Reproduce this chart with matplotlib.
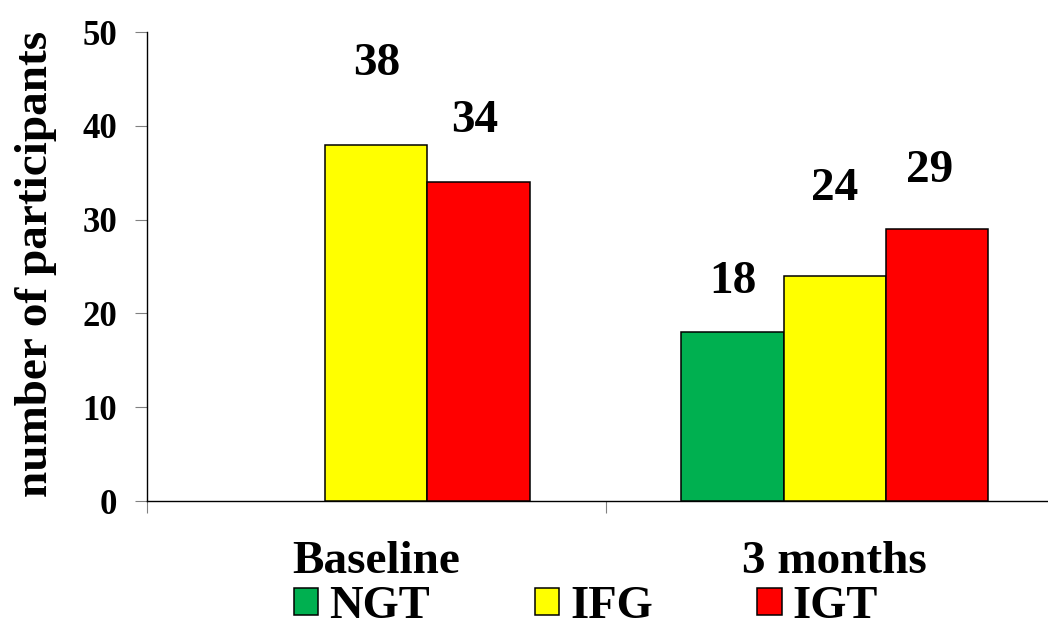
import matplotlib.pyplot as plt
from matplotlib.patches import Patch
import numpy as np

categories = ['Baseline', '3 months']
groups = ['NGT', 'IFG', 'IGT']
ngt = [0, 18]
ifg = [38, 24]
igt = [34, 29]
yticks = [0, 10, 20, 30, 40, 50]

colours = ['#00B050', '#FFFF00', '#FF0000']

plt.rcParams['font.family'] = ['Liberation Serif', 'DejaVu Serif']
plt.rcParams['font.weight'] = 'bold'

fig = plt.figure(figsize=(10.48, 6.21), dpi=100, facecolor='white')
ax = fig.add_axes([0.1403, 0.1932, 0.875, 0.7552])

x = np.arange(len(categories))
width = 0.223
series = [ngt, ifg, igt]
offsets = [-width, 0, width]

# text nudges, in data units (dx, dy above bar top)
lab_dx = [[0, 0], [0, 0], [-0.009, -0.017]]
lab_dy = [[0, 4.2], [7.4, 8.1], [5.3, 5.0]]

for i, vals in enumerate(series):
    # empty bars get no outline and no number
    edges = ['black' if v > 0 else 'none' for v in vals]
    ax.bar(x + offsets[i], vals, width, color=colours[i],
           edgecolor=edges, linewidth=1.1, zorder=3)
    for j, v in enumerate(vals):
        if v == 0:
            continue
        ax.text(x[j] + offsets[i] + lab_dx[i][j], v + lab_dy[i][j], str(v),
                ha='center', va='baseline', fontsize=34, fontweight='bold')

ax.set_xlim(-0.5, 1.5)
ax.set_ylim(0, 50)
ax.set_yticks(yticks)
ax.set_xticks(x)
ax.set_xticklabels(categories, fontsize=34, fontweight='bold')
ax.set_xticks([-0.5, 0.5, 1.5], minor=True)

ax.tick_params(axis='y', direction='out', length=8.6, width=0.8,
               color='#808080', labelsize=25, pad=13)
ax.tick_params(axis='x', which='major', length=0, pad=29)
ax.tick_params(axis='x', which='minor', direction='out', length=8.6,
               width=0.8, color='#808080')
for lbl in ax.get_yticklabels():
    lbl.set_fontweight('bold')

ax.spines['top'].set_visible(False)
ax.spines['right'].set_visible(False)
ax.spines['left'].set_linewidth(1.0)
ax.spines['bottom'].set_linewidth(1.0)

ax.set_ylabel('number of participants', fontsize=34, fontweight='bold')
ax.yaxis.set_label_coords(-0.098, 0.505)

handles = [Patch(facecolor=c, edgecolor='black', linewidth=1.1) for c in colours]
leg = fig.legend(handles, groups, ncol=3, loc='center',
                 bbox_to_anchor=(586 / 1048, 1 - 607 / 621),
                 frameon=False, prop={'size': 33.5, 'weight': 'bold'},
                 handlelength=0.52, handleheight=0.5, handletextpad=0.24,
                 columnspacing=2.25, borderpad=0, borderaxespad=0)

plt.savefig('out.png', dpi=100, facecolor='white')
